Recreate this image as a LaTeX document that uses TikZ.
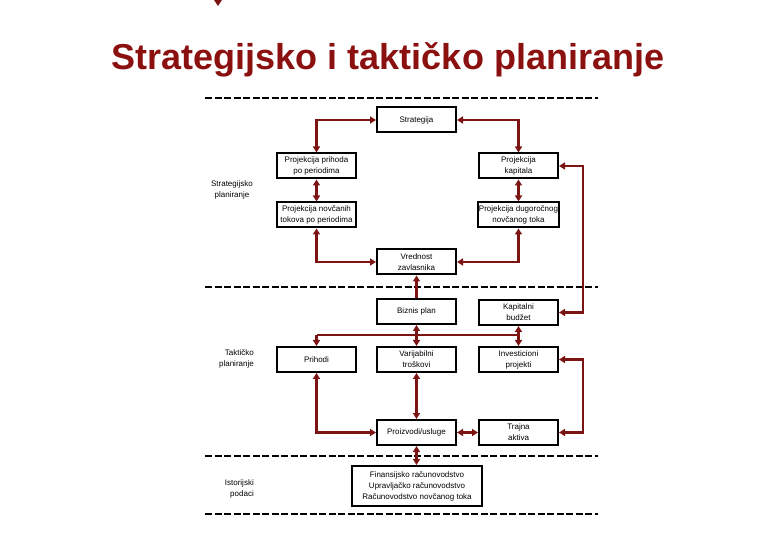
\documentclass[tikz,border=0pt]{standalone}
\usepackage{fontspec}
\setmainfont{Liberation Sans}
\usetikzlibrary{arrows.meta}
\definecolor{titlered}{RGB}{139,16,16}
\definecolor{linered}{RGB}{125,20,20}
\begin{document}
\begin{tikzpicture}[x=1pt,y=-1pt,
  box/.style={draw=black,line width=2pt,minimum width=79pt,minimum height=25pt,inner sep=1pt,align=center,font=\fontsize{8}{11}\selectfont},
  lbl/.style={inner sep=0pt,font=\fontsize{8}{11}\selectfont},
  conn/.style={draw=linered,line width=2.3pt},
  link/.style={conn,{Triangle[length=6pt,width=7pt]}-{Triangle[length=6pt,width=7pt]}},
  tolink/.style={conn,-{Triangle[length=6pt,width=7pt]}},
  sep/.style={draw=black,line width=2.6pt,dash pattern=on 7pt off 2.5pt}]
\useasboundingbox (0,0) rectangle (780,540);
\fill[linered] (214,0) -- (222,0) -- (218,6) -- cycle;
\node[font=\fontsize{36}{40}\selectfont\bfseries,text=titlered,anchor=base] (title) at (388,70) {Strategijsko i taktičko planiranje};
% separators
\coordinate (s1a) at (205,98); \coordinate (s1b) at (598,98);
\coordinate (s2a) at (205,287); \coordinate (s2b) at (598,287);
\coordinate (s3a) at (205,456); \coordinate (s3b) at (598,456);
\coordinate (s4a) at (205,514); \coordinate (s4b) at (598,514);
\draw[sep] (s1a) -- (s1b);
\draw[sep] (s2a) -- (s2b);
\draw[sep] (s3a) -- (s3b);
\draw[sep] (s4a) -- (s4b);
% boxes
\node[box] (strat) at (416.5,120) {Strategija};
\node[box] (pp) at (316.5,166) {Projekcija prihoda\\po periodima};
\node[box] (pk) at (518.5,166) {Projekcija\\kapitala};
\node[box] (pn) at (316.5,215) {Projekcija novčanih\\tokova po periodima};
\node[box] (pd) at (518.5,215) {Projekcija dugoročnog\\novčanog toka};
\node[box] (vz) at (416.5,262) {Vrednost\\zavlasnika};
\node[box] (bp) at (416.5,311.5) {Biznis plan};
\node[box] (kb) at (518.5,312.5) {Kapitalni\\budžet};
\node[box] (pr) at (316.5,359.5) {Prihodi};
\node[box] (vt) at (416.5,359.5) {Varijabilni\\troškovi};
\node[box] (ip) at (518.5,359.5) {Investicioni\\projekti};
\node[box] (pu) at (416.5,432.5) {Proizvodi/usluge};
\node[box] (ta) at (518.5,432.5) {Trajna\\aktiva};
\node[box,minimum width=130pt,minimum height=40pt] (fin) at (417,486) {Finansijsko računovodstvo\\Upravljačko računovodstvo\\Računovodstvo novčanog toka};
% side labels
\node[lbl,align=center] (ls) at (232,190) {Strategijsko\\planiranje};
\node[lbl,align=right,anchor=east] (lt) at (254,359) {Taktičko\\planiranje};
\node[lbl,align=right,anchor=east] (lh) at (254,489) {Istorijski\\podaci};
% helper coordinates
\coordinate (rx) at (583,0);
\coordinate (bus) at (0,335);
% connectors
\draw[link] (strat.west) -| (pp.north);
\draw[link] (strat.east) -| (pk.north);
\draw[link] (pp.south) -- (pn.north);
\draw[link] (pk.south) -- (pd.north);
\draw[link] (pn.south) |- (vz.west);
\draw[link] (pd.south) |- (vz.east);
\draw[tolink] (bp.north) -- (vz.south);
\draw[link] (pk.east) -- (pk.east -| rx) -- (kb.east -| rx) -- (kb.east);
\draw[link] (bp.south) -- (vt.north);
\draw[link] (kb.south) -- (ip.north);
\draw[conn] (pr.north |- bus) -- (ip.north |- bus);
\draw[tolink] (pr.north |- bus) -- (pr.north);
\draw[link] (pr.south) |- (pu.west);
\draw[link] (vt.south) -- (pu.north);
\draw[link] (pu.east) -- (ta.west);
\draw[link] (ip.east) -- (ip.east -| rx) -- (ta.east -| rx) -- (ta.east);
\draw[link] (pu.south) -- (pu.south |- fin.north);
\end{tikzpicture}
\end{document}
